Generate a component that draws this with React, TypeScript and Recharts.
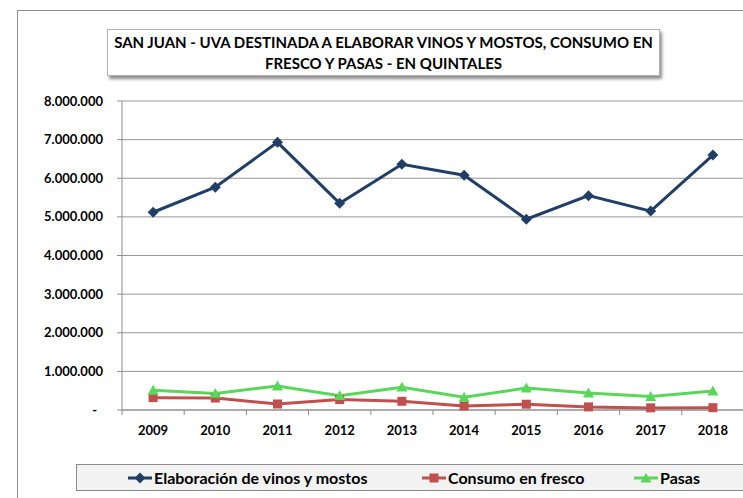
import React from "react";
import { LineChart, Line, XAxis, YAxis, CartesianGrid, Legend } from "recharts";

const years = ["2009", "2010", "2011", "2012", "2013", "2014", "2015", "2016", "2017", "2018"];
const elaboracion = [5120000, 5770000, 6930000, 5350000, 6360000, 6080000, 4940000, 5550000, 5150000, 6600000];
const consumo = [320000, 310000, 155000, 270000, 225000, 105000, 150000, 80000, 55000, 60000];
const pasas = [510000, 430000, 620000, 370000, 590000, 330000, 570000, 440000, 350000, 490000];
const yTicks = [0, 1000000, 2000000, 3000000, 4000000, 5000000, 6000000, 7000000, 8000000];

const titleLines = [
  "SAN JUAN - UVA DESTINADA A ELABORAR VINOS Y MOSTOS, CONSUMO EN",
  "FRESCO Y PASAS - EN QUINTALES",
];

const seriesNames = ["Elaboración de vinos y mostos", "Consumo en fresco", "Pasas"];
const colors = ["#213f66", "#c0504d", "#5ad75a"];

const data = years.map((y, i) => ({
  year: y,
  elab: elaboracion[i],
  cons: consumo[i],
  pasas: pasas[i],
}));

const FONT = "Lato, 'Open Sans', sans-serif";

const fmt = (v: number) => String(v).replace(/\B(?=(\d{3})+(?!\d))/g, ".");

const Diamond = (props: any) => {
  const { cx, cy, fill } = props;
  if (cx == null || cy == null) return null;
  const r = 5.5;
  return <path d={`M${cx},${cy - r}L${cx + r},${cy}L${cx},${cy + r}L${cx - r},${cy}Z`} fill={fill} />;
};
const Square = (props: any) => {
  const { cx, cy, fill } = props;
  if (cx == null || cy == null) return null;
  const r = 4.5;
  return <rect x={cx - r} y={cy - r} width={2 * r} height={2 * r} fill={fill} />;
};
const Triangle = (props: any) => {
  const { cx, cy, fill } = props;
  if (cx == null || cy == null) return null;
  const r = 5.5;
  return <path d={`M${cx},${cy - r}L${cx + r},${cy + r * 0.8}L${cx - r},${cy + r * 0.8}Z`} fill={fill} />;
};

const XTick = (props: any) => {
  const { x, y, payload } = props;
  const off = payload && payload.offset ? payload.offset : 31;
  return (
    <g>
      <line x1={x - off} x2={x - off} y1={y - 8} y2={y - 3} stroke="#8c8c8c" strokeWidth={1} />
      <text x={x} y={y + 17} textAnchor="middle" fontFamily={FONT} fontWeight={700} fontSize={13} fill="#000">
        {payload.value}
      </text>
    </g>
  );
};

const YTick = (props: any) => {
  const { x, y, payload } = props;
  const v = payload.value as number;
  return (
    <text
      x={v === 0 ? x - 6 : x}
      y={y + 4.5}
      textAnchor="end"
      fontFamily={FONT}
      fontWeight={700}
      fontSize={13}
      fill="#000"
    >
      {v === 0 ? "-" : fmt(v)}
    </text>
  );
};

const LegendContent = () => {
  const shapes = ["diamond", "square", "triangle"];
  const xs = [50, 344, 556];
  return (
    <div
      style={{
        position: "relative",
        width: 670,
        height: 27,
        background: "#f2f2f2",
        border: "1px solid #8a8a8a",
        boxSizing: "border-box",
        fontFamily: FONT,
        fontWeight: 700,
        fontSize: 16,
        color: "#000",
      }}
    >
      {seriesNames.map((n, i) => (
        <div key={n} style={{ position: "absolute", left: xs[i], top: 3, display: "flex", alignItems: "center", whiteSpace: "nowrap" }}>
          <svg width={26} height={14} style={{ marginRight: 1 }}>
            <line x1={1} x2={25} y1={7} y2={7} stroke={colors[i]} strokeWidth={3} />
            {shapes[i] === "diamond" && <path d="M13,1.5L18.5,7L13,12.5L7.5,7Z" fill={colors[i]} />}
            {shapes[i] === "square" && <rect x={8.5} y={2.5} width={9} height={9} fill={colors[i]} />}
            {shapes[i] === "triangle" && <path d="M13,2L18.5,11.5L7.5,11.5Z" fill={colors[i]} />}
          </svg>
          <span style={{ lineHeight: "20px" }}>{n}</span>
        </div>
      ))}
    </div>
  );
};

export default function App() {
  return (
    <div style={{ position: "absolute", left: 0, top: 0, width: 743, height: 498, overflow: "hidden", background: "#fff" }}>
      <div
        style={{
          position: "absolute",
          left: 17,
          top: 10,
          width: 800,
          height: 600,
          border: "1px solid #8c8c8c",
          boxSizing: "border-box",
        }}
      />
      <div style={{ position: "absolute", left: 0, top: 0 }}>
        <LineChart width={744} height={498} data={data} margin={{ top: 101, right: 0, bottom: 31, left: 0 }}>
          <CartesianGrid horizontal={true} vertical={false} stroke="#979797" strokeWidth={1} />
          <XAxis
            dataKey="year"
            scale="band"
            height={30}
            axisLine={{ stroke: "#8c8c8c" }}
            tickLine={false}
            tick={<XTick />}
            interval={0}
          />
          <YAxis
            width={122}
            domain={[0, 8000000]}
            ticks={yTicks}
            interval={0}
            axisLine={{ stroke: "#8c8c8c" }}
            tickLine={{ stroke: "#8c8c8c" }}
            tickSize={5}
            tickMargin={14}
            tick={<YTick />}
          />
          <Legend
            layout="vertical"
            align="center"
            verticalAlign="bottom"
            content={<LegendContent />}
            wrapperStyle={{ position: "absolute", left: 76, top: 464, width: 670, height: 27 }}
          />
          <Line
            dataKey="elab"
            name={seriesNames[0]}
            stroke={colors[0]}
            strokeWidth={3}
            dot={<Diamond fill={colors[0]} />}
            isAnimationActive={false}
          />
          <Line
            dataKey="cons"
            name={seriesNames[1]}
            stroke={colors[1]}
            strokeWidth={3}
            dot={<Square fill={colors[1]} />}
            isAnimationActive={false}
          />
          <Line
            dataKey="pasas"
            name={seriesNames[2]}
            stroke={colors[2]}
            strokeWidth={3}
            dot={<Triangle fill={colors[2]} />}
            isAnimationActive={false}
          />
        </LineChart>
      </div>
      <div
        style={{
          position: "absolute",
          left: 107,
          top: 29,
          width: 553,
          height: 47,
          background: "#fff",
          border: "1px solid #b0b0b0",
          boxSizing: "border-box",
          boxShadow: "2px 3px 3px rgba(0,0,0,0.45)",
          fontFamily: FONT,
          fontWeight: 700,
          fontSize: 15,
          lineHeight: "21px",
          textAlign: "center",
          paddingTop: 2,
          color: "#000",
          whiteSpace: "nowrap",
        }}
      >
        {titleLines.map((l) => (
          <div key={l}>{l}</div>
        ))}
      </div>
    </div>
  );
}
